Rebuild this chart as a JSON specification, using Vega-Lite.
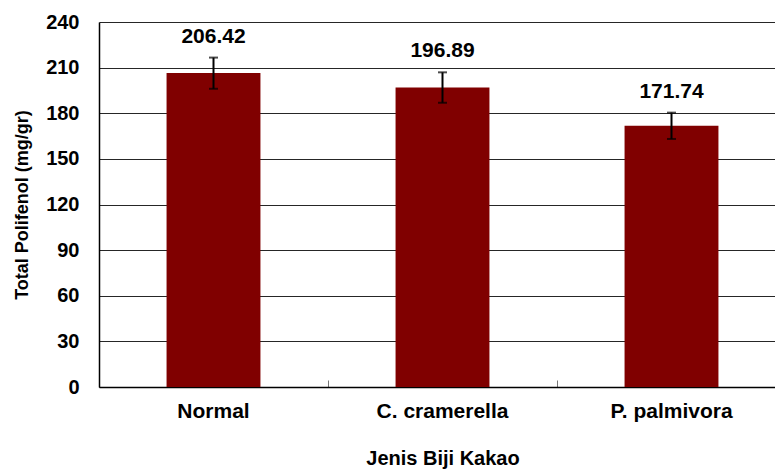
{
  "$schema": "https://vega.github.io/schema/vega-lite/v6.json",
  "autosize": "none",
  "width": 676,
  "height": 365,
  "padding": {"left": 99, "top": 22, "right": 0, "bottom": 85},
  "background": "white",
  "config": {"view": {"stroke": null}, "font": "Liberation Sans"},
  "data": {"values": [
    {"jenis": "Normal", "polifenol": 206.42, "lo": 196.1, "hi": 216.6},
    {"jenis": "C. cramerella", "polifenol": 196.89, "lo": 186.9, "hi": 206.9},
    {"jenis": "P. palmivora", "polifenol": 171.74, "lo": 163.1, "hi": 180.4}
  ]},
  "encoding": {
    "x": {
      "field": "jenis", "type": "nominal", "sort": null,
      "scale": {"range": [0, 687], "paddingInner": 0, "paddingOuter": 0},
      "axis": {
        "title": "Jenis Biji Kakao", "labelAngle": 0, "bandPosition": 0,
        "tickSize": -7, "tickColor": "#777777", "tickWidth": 1,
        "domainColor": "black", "domainWidth": 1.5,
        "labelFontSize": 21, "labelFontWeight": "bold", "labelColor": "black",
        "labelPadding": 20, "labelBound": false, "labelOverlap": false,
        "titleFontSize": 20, "titleFontWeight": "bold", "titleColor": "black",
        "titlePadding": 27, "grid": false
      }
    }
  },
  "layer": [
    {
      "mark": {"type": "bar", "color": "#800000", "width": {"band": 0.41}},
      "encoding": {
        "y": {
          "field": "polifenol", "type": "quantitative",
          "scale": {"domain": [0, 240], "nice": false},
          "axis": {
            "title": "Total Polifenol (mg/gr)",
            "values": [0, 30, 60, 90, 120, 150, 180, 210, 240],
            "grid": true, "gridColor": "black", "gridWidth": 1, "gridOpacity": 0.85,
            "ticks": false, "domainColor": "black", "domainWidth": 1.5,
            "labelFontSize": 20, "labelFontWeight": "bold", "labelColor": "black",
            "labelPadding": 20,
            "titleFontSize": 18, "titleFontWeight": "bold", "titleColor": "black",
            "titlePadding": 14
          }
        }
      }
    },
    {
      "mark": {"type": "rule", "color": "black", "strokeWidth": 2},
      "encoding": {"y": {"field": "lo", "type": "quantitative"}, "y2": {"field": "hi"}}
    },
    {
      "mark": {"type": "tick", "color": "black", "size": 9, "thickness": 2},
      "encoding": {"y": {"field": "lo", "type": "quantitative"}}
    },
    {
      "mark": {"type": "tick", "color": "black", "size": 9, "thickness": 2},
      "encoding": {"y": {"field": "hi", "type": "quantitative"}}
    },
    {
      "mark": {"type": "text", "fontSize": 21, "fontWeight": "bold", "color": "black", "baseline": "alphabetic", "dy": -15},
      "encoding": {
        "y": {"field": "hi", "type": "quantitative"},
        "text": {"field": "polifenol", "type": "quantitative", "format": ".2f"}
      }
    }
  ]
}
